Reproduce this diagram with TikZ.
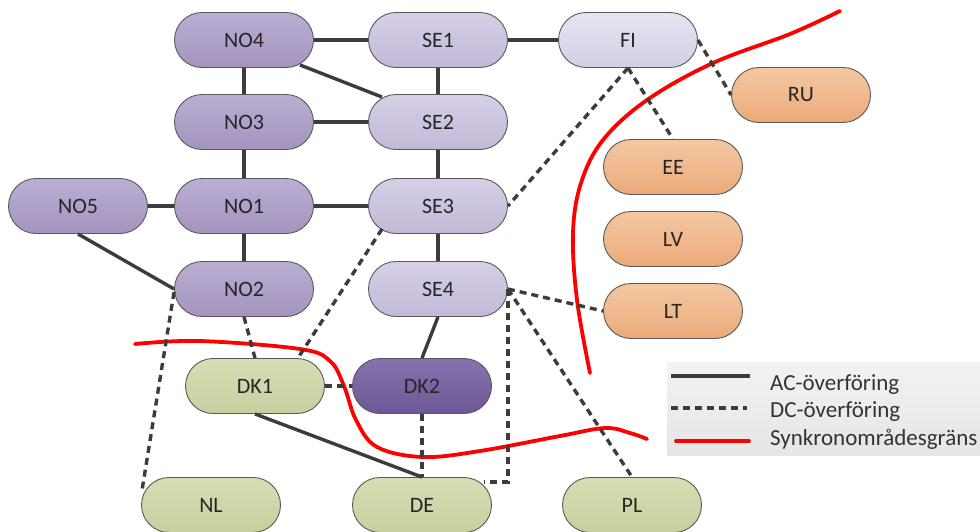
\documentclass[tikz,border=0pt]{standalone}
\usepackage{fontspec}
\setmainfont{Carlito}
\definecolor{noTop}{RGB}{186,174,211}
\definecolor{noBot}{RGB}{164,148,190}
\definecolor{seTop}{RGB}{214,207,230}
\definecolor{seBot}{RGB}{194,185,216}
\definecolor{fiTop}{RGB}{232,228,242}
\definecolor{fiBot}{RGB}{212,206,228}
\definecolor{dkTop}{RGB}{134,114,174}
\definecolor{dkBot}{RGB}{108,88,150}
\definecolor{orTop}{RGB}{244,200,162}
\definecolor{orBot}{RGB}{235,170,122}
\definecolor{grTop}{RGB}{214,222,180}
\definecolor{grBot}{RGB}{198,208,158}
\definecolor{lineGray}{RGB}{60,60,60}
\tikzset{
  zone/.style={draw=black!65, line width=0.9pt, rounded corners=27.5pt,
    minimum width=139pt, minimum height=55pt, inner sep=0pt,
    font=\fontsize{22}{26}\selectfont, text=black!85},
  nozone/.style={zone, top color=noTop, bottom color=noBot},
  sezone/.style={zone, top color=seTop, bottom color=seBot},
  fizone/.style={zone, top color=fiTop, bottom color=fiBot},
  dkzone/.style={zone, top color=dkTop, bottom color=dkBot},
  orzone/.style={zone, top color=orTop, bottom color=orBot},
  grzone/.style={zone, top color=grTop, bottom color=grBot},
  acline/.style={draw=lineGray, line width=3.4pt},
  dcline/.style={draw=lineGray, line width=3.4pt, dash pattern=on 7pt off 5pt},
  syncline/.style={draw=red, line width=3.8pt, line cap=round},
  legtext/.style={anchor=base west, inner sep=0pt, font=\fontsize{23}{27}\selectfont, text=black!80},
}
\begin{document}
\begin{tikzpicture}[x=1pt,y=-1pt]
\useasboundingbox (0,0) rectangle (980,531);
% nodes
\node[nozone] (NO4) at (244,40) {NO4};
\node[nozone] (NO3) at (244,122) {NO3};
\node[nozone] (NO1) at (244,206) {NO1};
\node[nozone] (NO5) at (78,206) {NO5};
\node[nozone] (NO2) at (244,289) {NO2};
\node[sezone] (SE1) at (438,40) {SE1};
\node[sezone] (SE2) at (438,122) {SE2};
\node[sezone] (SE3) at (438,206) {SE3};
\node[sezone] (SE4) at (438,289) {SE4};
\node[fizone] (FI) at (628,40) {FI};
\node[orzone] (RU) at (801,95) {RU};
\node[orzone] (EE) at (673,167) {EE};
\node[orzone] (LV) at (673,239) {LV};
\node[orzone] (LT) at (673,311) {LT};
\node[grzone] (DK1) at (255,386) {DK1};
\node[dkzone] (DK2) at (422,386) {DK2};
\node[grzone] (NL) at (211,505) {NL};
\node[grzone] (DE) at (422,505) {DE};
\node[grzone] (PL) at (632,505) {PL};
% synchronous area borders
\draw[syncline] plot[smooth, tension=0.6] coordinates {(840,11) (790,34) (713,63) (647,100) (603,140) (581,183) (573,233) (577,300) (590,373)};
\draw[syncline] plot[smooth, tension=0.6] coordinates {(135,344) (200,341) (300,349) (330,361) (344,386) (356,420) (377,447) (423,457) (480,451) (560,436) (605,428) (630,433) (647,439)};
% AC connections
\draw[acline] (NO4) -- (SE1);
\draw[acline] (SE1) -- (FI);
\draw[acline] (NO4) -- (NO3);
\draw[acline] (NO3) -- (NO1);
\draw[acline] (NO1) -- (NO2);
\draw[acline] (NO3) -- (SE2);
\draw[acline] (NO1) -- (SE3);
\draw[acline] (NO5) -- (NO1);
\draw[acline] (SE1) -- (SE2);
\draw[acline] (SE2) -- (SE3);
\draw[acline] (SE3) -- (SE4);
\draw[acline] ([xshift=-14pt,yshift=3pt]NO4.south east) -- ([xshift=14pt,yshift=-3pt]SE2.north west);
\draw[acline] (NO5.south) -- (NO2.west);
\draw[acline] (SE4.south) -- (DK2.north);
\draw[acline] (DK1.south) -- (DE.north);
% DC connections
\draw[dcline] (FI.east) -- (RU.west);
\draw[dcline] (FI.south) -- (EE.north);
\draw[dcline] (FI.south) -- (SE3.east);
\draw[dcline] (SE4.east) -- (LT.west);
\draw[dcline] (SE4.east) -- (PL.north);
\draw[dcline] (SE4.east) |- ([xshift=-8pt,yshift=-5pt]DE.north east);
\draw[dcline] (NO2.south) -- (DK1.north);
\draw[dcline] ([xshift=14pt,yshift=5pt]SE3.south west) -- ([xshift=-27pt]DK1.north east);
\draw[dcline] ([yshift=-3pt]NO2.west) -- ([xshift=1pt,yshift=15pt]NL.west);
\draw[dcline] (DK1.east) -- (DK2.west);
\draw[dcline] (DK2.south) -- (DE.north);
% legend
\node[draw=none, top color=black!5, bottom color=black!10, minimum width=330pt, minimum height=93pt, anchor=north west, inner sep=0pt] (legend) at (667,362) {};
\coordinate (a1) at (671,376);
\coordinate (a2) at (750,376);
\coordinate (d1) at (671,408);
\coordinate (d2) at (747,408);
\coordinate (s1) at (676,441);
\coordinate (s2) at (749,441);
\draw[acline] (a1) -- (a2);
\draw[dcline] (d1) -- (d2);
\draw[syncline] (s1) -- (s2);
\node[legtext] (acl) at (770,390) {AC-överföring};
\node[legtext] (dcl) at (770,417) {DC-överföring};
\node[legtext] (syl) at (770,445) {Synkronområdesgräns};
\end{tikzpicture}
\end{document}
